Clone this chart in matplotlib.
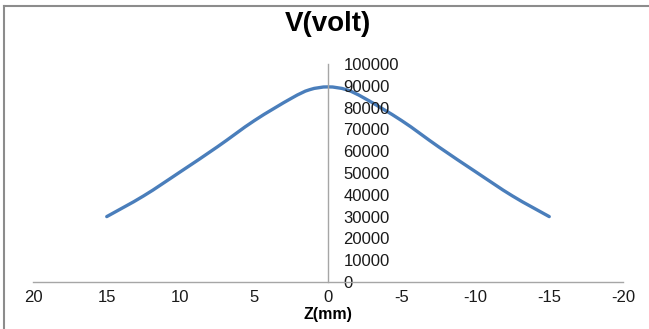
#!/usr/bin/env python3
"""Recreate the V(volt) vs Z(mm) Excel-style chart."""

import matplotlib
matplotlib.use("Agg")
import matplotlib.pyplot as plt
from matplotlib.path import Path
from matplotlib.patches import PathPatch
from matplotlib.lines import Line2D

z_mm = [15, 12.5, 10, 7.5, 5, 2.5, 1.25, 0, -1.25, -2.5, -5, -7.5, -10, -12.5, -15]
volts = [30000, 39500, 50600, 62000, 74000, 84200, 88200, 89500,
         88200, 84200, 74000, 62000, 50600, 39500, 30000]
x_ticks = [20, 15, 10, 5, 0, -5, -10, -15, -20]
y_ticks = list(range(0, 100001, 10000))

LINE = "#4a7ebb"
AXIS = "#a6a6a6"


def smooth_path(xs, ys):
    # Catmull-Rom style bezier, like Excel's "smoothed line"
    verts = [(xs[0], ys[0])]
    codes = [Path.MOVETO]
    n = len(xs)
    for i in range(n - 1):
        x0, y0 = (xs[i - 1], ys[i - 1]) if i > 0 else (xs[i], ys[i])
        x1, y1 = xs[i], ys[i]
        x2, y2 = xs[i + 1], ys[i + 1]
        x3, y3 = (xs[i + 2], ys[i + 2]) if i + 2 < n else (x2, y2)
        verts += [(x1 + (x2 - x0) / 6, y1 + (y2 - y0) / 6),
                  (x2 - (x3 - x1) / 6, y2 - (y3 - y1) / 6),
                  (x2, y2)]
        codes += [Path.CURVE4] * 3
    return Path(verts, codes)


plt.rcParams["font.family"] = ["Liberation Sans", "DejaVu Sans"]

fig = plt.figure(figsize=(6.49, 3.29), dpi=100)
ax = fig.add_axes([33 / 649, 47 / 329, 590 / 649, 218 / 329])

ax.add_patch(PathPatch(smooth_path(z_mm, volts), facecolor="none",
                       edgecolor=LINE, lw=2.4, capstyle="round"))

ax.set_xlim(20, -20)
ax.set_ylim(0, 100000)
ax.set_xticks(x_ticks)
ax.set_xticklabels([str(t) for t in x_ticks])
ax.set_yticks(y_ticks)
ax.set_yticklabels([str(t) for t in y_ticks])

for side in ("top", "left"):
    ax.spines[side].set_visible(False)
ax.spines["right"].set_position(("data", 0))
ax.spines["bottom"].set_position(("data", 0))
for side in ("right", "bottom"):
    ax.spines[side].set_color(AXIS)
    ax.spines[side].set_linewidth(1.0)

ax.yaxis.set_ticks_position("right")
ax.tick_params(axis="y", length=0, pad=11, labelsize=12, labelcolor="#1a1a1a")
ax.tick_params(axis="x", length=0, pad=6, labelsize=12, labelcolor="#1a1a1a")
for lbl in ax.get_yticklabels():
    lbl.set_horizontalalignment("left")

ax.set_xlabel("Z(mm)", fontsize=11.5, fontweight="bold", labelpad=1)
fig.text(328 / 649, 1 - 24 / 329, "V(volt)", ha="center", va="center",
         fontsize=20, fontweight="bold")

# chart frame (only top and left edges visible in the crop)
fig.add_artist(Line2D([4 / 649, 4 / 649], [0, 1 - 6 / 329],
                      transform=fig.transFigure, color="#8c8c8c", lw=1.5))
fig.add_artist(Line2D([4 / 649, 1], [1 - 6 / 329, 1 - 6 / 329],
                      transform=fig.transFigure, color="#8c8c8c", lw=1.5))

fig.savefig("out.png", dpi=100)
